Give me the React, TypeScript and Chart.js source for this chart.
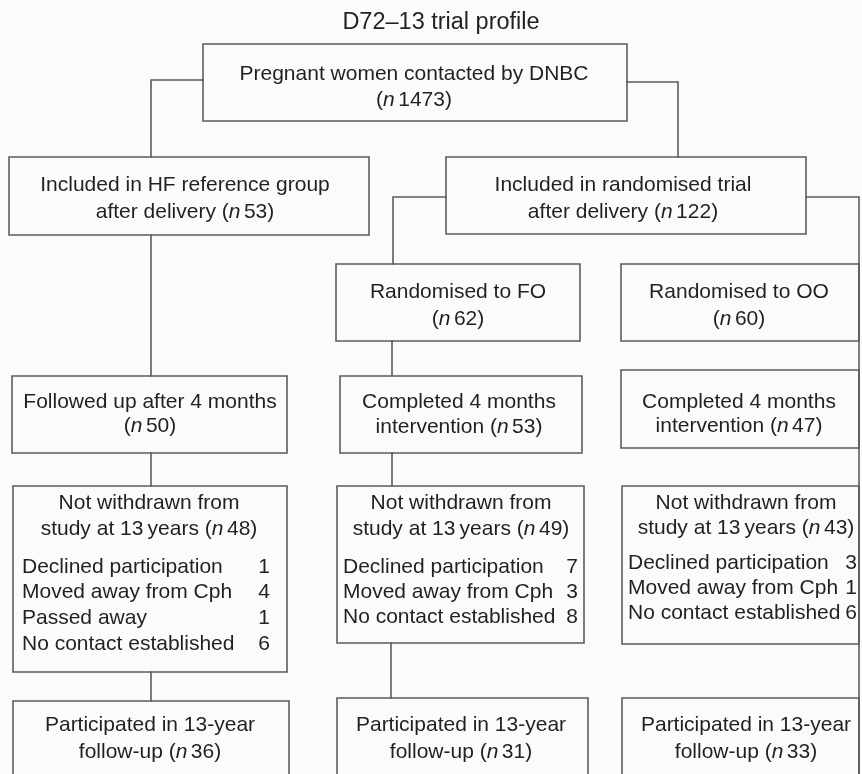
import React, { useEffect, useRef } from "react";
import { Chart, registerables } from "chart.js";

Chart.register(...registerables);

// ---------- data ----------
const TITLE = "D72\u201313 trial profile";

const nodeText: string[][] = [
  ["Pregnant women contacted by DNBC", ""],
  ["Included in HF reference group", "after delivery "],
  ["Included in randomised trial", "after delivery "],
  ["Randomised to FO", ""],
  ["Randomised to OO", ""],
  ["Followed up after 4 months", ""],
  ["Completed 4 months", "intervention "],
  ["Completed 4 months", "intervention "],
  ["Not withdrawn from", "study at 13\u2009years "],
  ["Not withdrawn from", "study at 13\u2009years "],
  ["Not withdrawn from", "study at 13\u2009years "],
  ["Participated in 13-year", "follow-up "],
  ["Participated in 13-year", "follow-up "],
  ["Participated in 13-year", "follow-up "],
];
const nodeCounts = [1473, 53, 122, 62, 60, 50, 53, 47, 48, 49, 43, 36, 31, 33];

const reasonLabels = [
  "Declined participation",
  "Moved away from Cph",
  "Passed away",
  "No contact established",
];
const hfReasons: (number | null)[] = [1, 4, 1, 6];
const foReasons: (number | null)[] = [7, 3, null, 8];
const ooReasons: (number | null)[] = [3, 1, null, 6];

// ---------- layout (chart units: x 0..862, y 0..774 top-down) ----------
const nodeBoxes = [
  [203, 44, 627, 121],
  [9, 157, 369, 235],
  [446, 157, 806, 234],
  [336, 264, 580, 341],
  [621, 264, 859, 341],
  [12, 376, 287, 453],
  [340, 376, 582, 453],
  [621, 370, 859, 448],
  [13, 486, 287, 672],
  [337, 486, 584, 643],
  [622, 486, 859, 644],
  [13, 701, 289, 776],
  [337, 698, 588, 776],
  [622, 698, 859, 776],
];
// [centre x, first line y, second line y]
const nodeTextPos = [
  [414, 74, 100],
  [185, 185, 212],
  [623, 185, 212],
  [458, 292, 319],
  [739, 292, 319],
  [150, 402, 426],
  [459, 402, 427],
  [739, 402, 426],
  [149, 503, 529],
  [461, 503, 529],
  [746, 503, 528],
  [150, 725, 752],
  [461, 725, 752],
  [746, 725, 752],
];
// [left x, number right x, first y, step]
const reasonPos = [
  [22, 270, 567, 25.7],
  [343, 578, 567, 25],
  [628, 857, 563.5, 24.7],
];
const connectors = [
  [[203, 80], [151, 80], [151, 157]],
  [[627, 82], [678, 82], [678, 157]],
  [[151, 235], [151, 376]],
  [[446, 197], [393, 197], [393, 264]],
  [[806, 197], [859, 197], [859, 776]],
  [[392, 341], [392, 376]],
  [[151, 453], [151, 486]],
  [[392, 453], [392, 486]],
  [[151, 672], [151, 701]],
  [[391, 643], [391, 698]],
];

const LINE_COLOR = "#5c5c5c";
const TEXT_COLOR = "#231f20";
const BG = "#fbfbfb";
const FONT = "'Liberation Sans', Arial, sans-serif";

export default function App() {
  const ref = useRef<HTMLCanvasElement | null>(null);

  useEffect(() => {
    if (!ref.current) return;

    const lineDs = (pts: number[][]) => ({
      data: pts.map(([x, y]) => ({ x, y })),
      showLine: true,
      pointRadius: 0,
      pointHoverRadius: 0,
      borderColor: LINE_COLOR,
      borderWidth: 1.6,
      borderJoinStyle: "miter" as const,
      borderCapStyle: "square" as const,
      fill: false,
      tension: 0,
      clip: false as any,
    });

    const datasets: any[] = [];
    nodeBoxes.forEach(([x1, y1, x2, y2]) =>
      datasets.push(lineDs([[x1, y1], [x2, y1], [x2, y2], [x1, y2], [x1, y1]]))
    );
    connectors.forEach((c) => datasets.push(lineDs(c)));

    const textPlugin = {
      id: "flowText",
      beforeDraw(chart: any) {
        const c = chart.ctx;
        c.save();
        c.fillStyle = BG;
        c.fillRect(0, 0, chart.width, chart.height);
        c.restore();
      },
      afterDatasetsDraw(chart: any) {
        const c: CanvasRenderingContext2D = chart.ctx;
        const xs = chart.scales.x;
        const ys = chart.scales.y;
        const px = (v: number) => xs.getPixelForValue(v);
        const py = (v: number) => ys.getPixelForValue(v);
        const normal = `21px ${FONT}`;
        const italic = `italic 21px ${FONT}`;
        c.save();
        c.fillStyle = TEXT_COLOR;
        c.textBaseline = "middle";

        // title
        c.font = `23.5px ${FONT}`;
        c.textAlign = "center";
        c.fillText(TITLE, px(441), py(23));

        c.textAlign = "left";
        nodeText.forEach((lines, i) => {
          const [cx, y1, y2] = nodeTextPos[i];
          // first line
          c.font = normal;
          const w1 = c.measureText(lines[0]).width;
          c.fillText(lines[0], px(cx) - w1 / 2, py(y1));
          // second line with count
          const pre = lines[1] + "(";
          const post = String(nodeCounts[i]) + ")";
          c.font = normal;
          const wPre = c.measureText(pre).width;
          const wPost = c.measureText(post).width;
          c.font = italic;
          const wN = c.measureText("n").width;
          const gap = 3.5;
          const total = wPre + wN + gap + wPost;
          let x0 = px(cx) - total / 2;
          const yy = py(y2);
          c.font = normal;
          c.fillText(pre, x0, yy);
          x0 += wPre;
          c.font = italic;
          c.fillText("n", x0, yy);
          x0 += wN + gap;
          c.font = normal;
          c.fillText(post, x0, yy);
        });

        // withdrawal reasons
        [hfReasons, foReasons, ooReasons].forEach((vals, k) => {
          const [lx, rx, y0, step] = reasonPos[k];
          let row = 0;
          c.font = normal;
          vals.forEach((v, j) => {
            if (v === null) return;
            const yy = py(y0 + row * step);
            c.textAlign = "left";
            c.fillText(reasonLabels[j], px(lx), yy);
            c.textAlign = "right";
            c.fillText(String(v), px(rx), yy);
            row++;
          });
        });
        c.restore();
      },
    };

    const chart = new Chart(ref.current, {
      type: "scatter",
      data: { datasets },
      options: {
        animation: false,
        responsive: false,
        maintainAspectRatio: false,
        devicePixelRatio: 1,
        events: [],
        layout: { padding: 0 },
        plugins: {
          legend: { display: false },
          tooltip: { enabled: false },
          title: { display: false },
        },
        scales: {
          x: { type: "linear", min: 0, max: 862, display: false },
          y: { type: "linear", min: 0, max: 774, reverse: true, display: false },
        },
      },
      plugins: [textPlugin],
    });

    return () => chart.destroy();
  }, []);

  return (
    <div style={{ position: "absolute", left: 0, top: 0, width: 862, height: 774 }}>
      <canvas ref={ref} width={862} height={774} style={{ display: "block" }} />
    </div>
  );
}
